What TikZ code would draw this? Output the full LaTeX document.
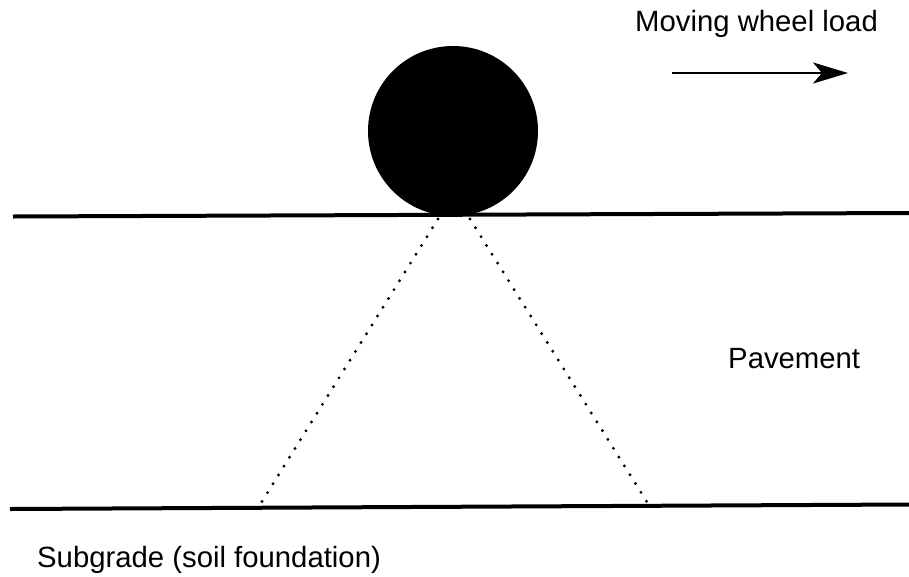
\documentclass[tikz,border=0pt]{standalone}
\usepackage{fontspec}
\setmainfont{Liberation Sans}
\usetikzlibrary{arrows.meta}
\begin{document}
\begin{tikzpicture}[x=1pt,y=-1pt,
  layer/.style={line width=4pt},
  spread/.style={line width=3.2pt,dash pattern=on 0pt off 10.4pt,line cap=round},
  lbl/.style={anchor=base west,inner sep=0pt,font=\fontsize{29.3}{34}\selectfont},
  motion/.style={line width=2.6pt,-{Stealth[length=35pt,width=21pt,inset=9pt]}}]
\useasboundingbox (0,0) rectangle (909,576);
% layer boundaries
\coordinate (tl) at (13,216.5);
\coordinate (tr) at (909,213);
\coordinate (bl) at (10,509);
\coordinate (br) at (909,504.5);
\draw[layer] (tl) -- (tr);
\draw[layer] (bl) -- (br);
% wheel
\node (wheel) [circle,fill=black,inner sep=0pt,minimum size=170pt] at (453,131) {};
% load spread
\coordinate (sl0) at (438,219);
\coordinate (sl1) at (261,503);
\coordinate (sr0) at (470,219);
\coordinate (sr1) at (647,502);
\draw[spread] (sl0) -- (sl1);
\draw[spread] (sr0) -- (sr1);
% motion arrow
\coordinate (a0) at (672,73);
\coordinate (a1) at (848,73);
\draw[motion] (a0) -- (a1);
% labels
\node (mov) [lbl] at (635,31) {Moving wheel load};
\node (pav) [lbl] at (728,368) {Pavement};
\node (sub) [lbl] at (37,567) {Subgrade (soil foundation)};
\end{tikzpicture}
\end{document}
